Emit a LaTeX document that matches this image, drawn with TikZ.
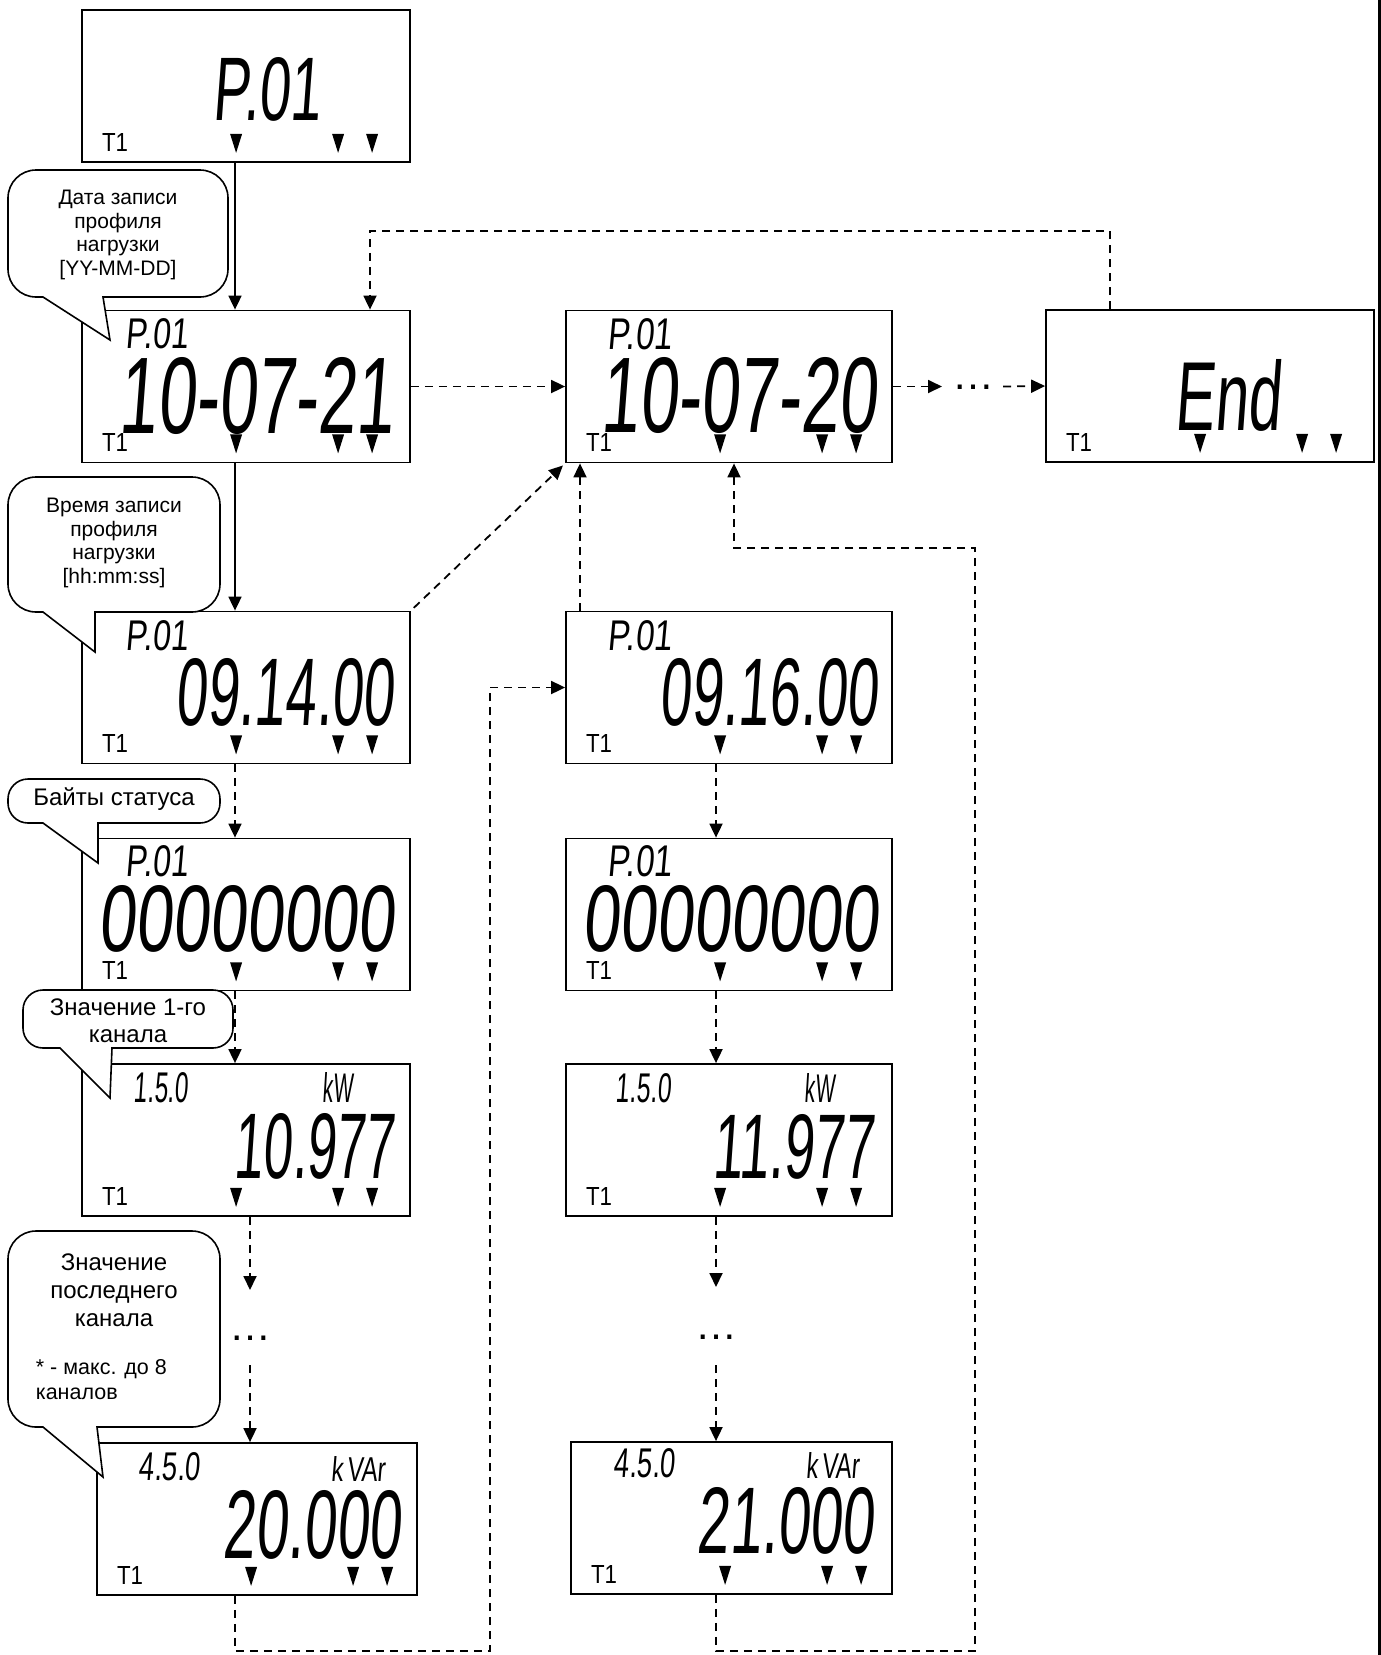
\documentclass[tikz,border=0pt]{standalone}
\usepackage{fontspec}
\setmainfont{Liberation Sans}
\newfontfamily\lcdfont[FakeSlant=0.12]{Liberation Sans}
\usepackage{graphicx}
\usepackage{tikz}
\usetikzlibrary{arrows.meta, calc}

\newcommand{\lcdtext}[3]{\resizebox{#1pt}{#2pt}{\lcdfont #3}}
\newcommand{\lcdmarks}[1]{%
  \node[anchor=south west, inner sep=0] (#1-t) at ($(#1.south west)+(20,-11)$) {\resizebox{26pt}{18pt}{T1}};
  \foreach \dx in {155,257,291}
    \fill ($(#1.south west)+(\dx-6,-29)$) -- ++(12,0) -- ++(-6,19) -- cycle;
}

\begin{document}
\begin{tikzpicture}[x=1pt, y=-1pt, line width=1.8pt,
    lcdbox/.style={draw, rectangle, minimum width=328, minimum height=152, inner sep=0},
    lcdtxt/.style={anchor=north west, inner sep=0},
    bubble/.style={draw, fill=white, line width=1.6pt},
    note/.style={align=center, inner sep=0, font=\fontsize{21}{23.5}\selectfont},
    bignote/.style={align=center, inner sep=0, font=\fontsize{24}{28}\selectfont},
    ellip/.style={inner sep=0, font=\fontsize{42}{42}\selectfont},
    flow/.style={-{Triangle[length=14pt, width=13pt]}},
    flowdash/.style={flow, dash pattern=on 8pt off 6pt}]
    \useasboundingbox (0,0) rectangle (1381,1655);

    \node[lcdbox] (sel) at (246,86) {};
    \node[lcdbox] (day1) at (246,386.5) {};
    \node[lcdbox, minimum width=326] (day2) at (729,386.5) {};
    \node[lcdbox] (fin) at (1210,386) {};
    \node[lcdbox] (time1) at (246,687.5) {};
    \node[lcdbox, minimum width=326] (time2) at (729,687.5) {};
    \node[lcdbox] (stat1) at (246,914.5) {};
    \node[lcdbox, minimum width=326] (stat2) at (729,914.5) {};
    \node[lcdbox] (chf1) at (246,1140) {};
    \node[lcdbox, minimum width=326] (chf2) at (729,1140) {};
    \node[lcdbox, minimum width=320] (chl1) at (257,1519) {};
    \node[lcdbox, minimum width=321] (chl2) at (731.5,1518) {};
    \foreach \b in {sel,day1,day2,fin,time1,time2,stat1,stat2,chf1,chf2,chl1,chl2}
        \lcdmarks{\b};

    \node[lcdtxt] (sel-v) at (212,57) {\lcdtext{108}{63}{P.01}};
    \node[lcdtxt] (day1-h) at (125,318) {\lcdtext{62}{30}{P.01}};
    \node[lcdtxt] (day1-v) at (118,357) {\lcdtext{275}{76}{10-07-21}};
    \node[lcdtxt] (day2-h) at (607,318) {\lcdtext{64}{31}{P.01}};
    \node[lcdtxt] (day2-v) at (600,357) {\lcdtext{276}{75}{10-07-20}};
    \node[lcdtxt] (fin-v) at (1174,359) {\lcdtext{106}{71}{End}};
    \node[lcdtxt] (time1-h) at (125,620) {\lcdtext{62}{30}{P.01}};
    \node[lcdtxt] (time1-v) at (175,658) {\lcdtext{218}{67}{09.14.00}};
    \node[lcdtxt] (time2-h) at (607,620) {\lcdtext{64}{30}{P.01}};
    \node[lcdtxt] (time2-v) at (659,658) {\lcdtext{218}{67}{09.16.00}};
    \node[lcdtxt] (stat1-h) at (125,845) {\lcdtext{62}{31}{P.01}};
    \node[lcdtxt] (stat1-v) at (98,885) {\lcdtext{295}{66}{00000000}};
    \node[lcdtxt] (stat2-h) at (607,845) {\lcdtext{64}{31}{P.01}};
    \node[lcdtxt] (stat2-v) at (582,885) {\lcdtext{295}{66}{00000000}};
    \node[lcdtxt] (chf1-h) at (133,1072) {\lcdtext{54}{30}{1.5.0}};
    \node[lcdtxt] (chf1-u) at (322,1072) {\lcdtext{30}{30}{kW}};
    \node[lcdtxt] (chf1-v) at (233,1113) {\lcdtext{160}{65}{10.977}};
    \node[lcdtxt] (chf2-h) at (615,1073) {\lcdtext{55}{29}{1.5.0}};
    \node[lcdtxt] (chf2-u) at (804,1073) {\lcdtext{30}{29}{kW}};
    \node[lcdtxt] (chf2-v) at (712,1114) {\lcdtext{161}{64}{11.977}};
    \node[lcdtxt] (chl1-h) at (138,1452) {\lcdtext{61}{28}{4.5.0}};
    \node[lcdtxt] (chl1-u) at (330,1456) {\lcdtext{54}{25}{k\,VAr}};
    \node[lcdtxt] (chl1-v) at (222,1490) {\lcdtext{178}{68}{20.000}};
    \node[lcdtxt] (chl2-h) at (613,1448) {\lcdtext{61}{29}{4.5.0}};
    \node[lcdtxt] (chl2-u) at (805,1452) {\lcdtext{53}{26}{k\,VAr}};
    \node[lcdtxt] (chl2-v) at (696,1487) {\lcdtext{177}{66}{21.000}};

    \draw[bubble, rounded corners=28] (118,170) -- (228,170) -- (228,297) -- (131,297) [sharp corners] -- (103,297) -- (110,340) -- (43,297) -- (40,297) [rounded corners=28] -- (8,297) -- (8,170) -- cycle;
    \draw[bubble, rounded corners=28] (114,477) -- (220,477) -- (220,612) -- (125,612) [sharp corners] -- (95,612) -- (95,652) -- (43,612) -- (40,612) [rounded corners=28] -- (8,612) -- (8,477) -- cycle;
    \draw[bubble, rounded corners=20] (114,779) -- (220,779) -- (220,823) -- (125,823) [sharp corners] -- (98,823) -- (98,863) -- (43,823) -- (40,823) [rounded corners=20] -- (8,823) -- (8,779) -- cycle;
    \draw[bubble, rounded corners=20] (128,990) -- (233,990) -- (233,1048) -- (140,1048) [sharp corners] -- (112,1048) -- (110,1098) -- (60,1048) -- (55,1048) [rounded corners=20] -- (23,1048) -- (23,990) -- cycle;
    \draw[bubble, rounded corners=28] (114,1231) -- (220,1231) -- (220,1427) -- (125,1427) [sharp corners] -- (97,1427) -- (103,1477) -- (43,1427) -- (40,1427) [rounded corners=28] -- (8,1427) -- (8,1231) -- cycle;

    \node[note] (n-date) at (118,235) {Дата записи\\профиля\\нагрузки\\{[}YY-MM-DD{]}};
    \node[note] (n-time) at (114,543) {Время записи\\профиля\\нагрузки\\{[}hh:mm:ss{]}};
    \node[bignote] (n-stat) at (114,799) {Байты статуса};
    \node[bignote, font=\fontsize{24}{27}\selectfont] (n-ch1) at (128,1021) {Значение 1-го\\канала};
    \node[bignote] (n-chn) at (114,1290) {Значение\\последнего\\канала};
    \node[note, align=left, anchor=north west, font=\fontsize{21.5}{25}\selectfont] (n-max) at (35,1359) {* - макс. до 8\\каналов};

    \coordinate (colA) at (235,0);
    \coordinate (colD) at (580,0);
    \coordinate (colE) at (734,0);
    \coordinate (colF) at (490,0);
    \coordinate (colG) at (975,0);
    \coordinate (colH) at (1110,0);
    \coordinate (colI) at (370,0);
    \coordinate (rowTop) at (0,231);
    \coordinate (rowMid) at (0,548);
    \coordinate (rowBot) at (0,1651);

    \node[ellip] (dotsL) at (250,1338) {…};
    \node[ellip] (dotsR) at (716,1337) {…};
    \node[ellip] (dotsM) at (973,387) {…};
    \coordinate (tipL) at (250,1290);
    \coordinate (tailL) at (250,1365);
    \coordinate (tipR) at (716,1287);
    \coordinate (tailR) at (716,1365);
    \coordinate (tipM) at (942,386.5);
    \coordinate (tailM) at (1003,386.5);

    \draw[flow] (sel.south -| colA) -- (day1.north -| colA);
    \draw[flow] (day1.south -| colA) -- (time1.north -| colA);
    \draw[flowdash] (time1.south -| colA) -- (stat1.north -| colA);
    \draw[flowdash] (stat1.south -| colA) -- (chf1.north -| colA);
    \draw[flowdash] (chf1.south -| dotsL) -- (tipL);
    \draw[flowdash] (tailL) -- (chl1.north -| dotsL);
    \draw[flowdash] (time2.south -| dotsR) -- (stat2.north -| dotsR);
    \draw[flowdash] (stat2.south -| dotsR) -- (chf2.north -| dotsR);
    \draw[flowdash] (chf2.south -| dotsR) -- (tipR);
    \draw[flowdash] (tailR) -- (chl2.north -| dotsR);
    \draw[flowdash] (day1.east) -- (day2.west);
    \draw[flowdash] (day2.east) -- (tipM);
    \draw[flowdash] (tailM) -- (fin.west);
    \draw[flowdash] (fin.north -| colH) -- (colH |- rowTop) -- (colI |- rowTop) -- (day1.north -| colI);
    \draw[flowdash, shorten <=4pt, shorten >=3pt] (time1.north east) -- (day2.south west);
    \draw[flowdash] (time2.north -| colD) -- (day2.south -| colD);
    \draw[flowdash] (chl1.south -| colA) -- (colA |- rowBot) -- (colF |- rowBot) -- (colF |- time2.west) -- (time2.west);
    \draw[flowdash] (chl2.south -| dotsR) -- (dotsR |- rowBot) -- (colG |- rowBot) -- (colG |- rowMid) -- (colE |- rowMid) -- (day2.south -| colE);

    \draw[line width=3pt] (1379,0) -- (1379,1655);
\end{tikzpicture}
\end{document}
